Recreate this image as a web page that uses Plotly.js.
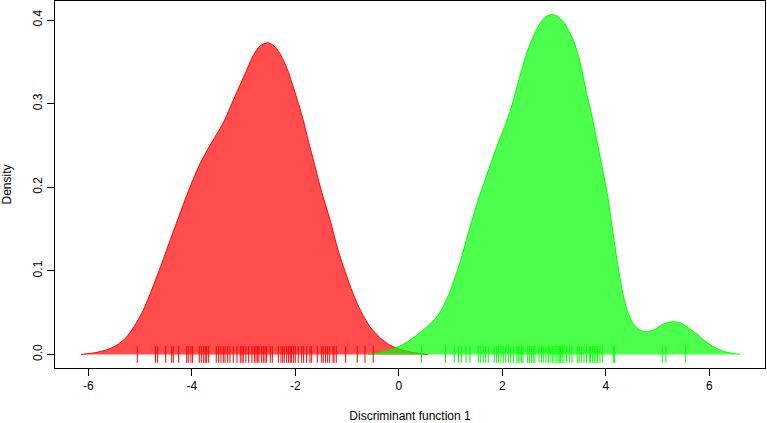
<!DOCTYPE html>
<html>
<head>
<meta charset="utf-8">
<script src="https://cdn.plot.ly/plotly-3.0.1.min.js"></script>
<style>html,body{margin:0;padding:0;background:#fff;}#plot{width:767px;height:423px;}</style>
</head>
<body>
<div id="plot"></div>
<script>
// Density curve of group 1 (red)
var redX = [-6.141,-5.870,-5.619,-5.426,-5.271,-5.117,-4.943,-4.769,-4.614,-4.421,-4.261,-4.035,-3.841,-3.648,-3.391,-3.198,-3.069,-2.939,-2.817,-2.682,-2.522,-2.412,-2.296,-2.160,-2.039,-1.948,-1.845,-1.755,-1.652,-1.503,-1.329,-1.175,-1.020,-0.866,-0.711,-0.557,-0.364,-0.170,0.023,0.216,0.410,0.564];
var redY = [0,0.002,0.006,0.012,0.020,0.033,0.052,0.078,0.103,0.136,0.163,0.200,0.228,0.250,0.277,0.304,0.322,0.340,0.357,0.369,0.3728,0.369,0.360,0.342,0.320,0.302,0.280,0.257,0.233,0.197,0.161,0.125,0.096,0.070,0.049,0.033,0.020,0.011,0.006,0.003,0.001,0];
// Density curve of group 2 (green)
var greenX = [-0.595,-0.363,-0.170,0.023,0.216,0.410,0.603,0.796,0.989,1.183,1.376,1.536,1.704,1.892,2.085,2.207,2.342,2.477,2.599,2.729,2.845,2.966,3.076,3.192,3.372,3.501,3.631,3.733,3.824,3.927,4.048,4.139,4.236,4.332,4.429,4.526,4.661,4.796,4.951,5.106,5.280,5.434,5.589,5.744,5.918,6.111,6.304,6.594];
var greenY = [0,0.002,0.005,0.010,0.017,0.026,0.036,0.050,0.075,0.110,0.152,0.185,0.215,0.248,0.279,0.302,0.333,0.361,0.380,0.396,0.404,0.4067,0.404,0.397,0.376,0.350,0.312,0.285,0.257,0.225,0.185,0.145,0.105,0.072,0.050,0.037,0.029,0.027,0.030,0.036,0.039,0.038,0.032,0.025,0.016,0.008,0.003,0];
// Rug: individual discriminant scores
var redRug = [-5.053,-4.701,-4.659,-4.504,-4.388,-4.357,-4.253,-4.099,-4.068,-4.016,-3.983,-3.855,-3.816,-3.770,-3.739,-3.712,-3.673,-3.527,-3.480,-3.436,-3.391,-3.358,-3.306,-3.262,-3.198,-3.127,-3.063,-3.030,-3.005,-2.953,-2.900,-2.837,-2.792,-2.759,-2.727,-2.701,-2.649,-2.618,-2.585,-2.553,-2.483,-2.444,-2.328,-2.276,-2.243,-2.213,-2.166,-2.128,-2.097,-2.070,-2.031,-2.000,-1.942,-1.876,-1.838,-1.780,-1.716,-1.683,-1.575,-1.490,-1.459,-1.413,-1.374,-1.335,-1.271,-1.252,-1.208,-1.026,-0.802,-0.653,-0.493];
var greenRug = [0.439,0.902,1.072,1.154,1.215,1.299,1.376,1.536,1.575,1.633,1.679,1.729,1.845,1.892,1.923,1.975,2.019,2.066,2.116,2.162,2.213,2.284,2.309,2.342,2.375,2.400,2.491,2.529,2.568,2.599,2.632,2.709,2.761,2.792,2.844,2.889,2.922,2.966,2.999,3.038,3.076,3.101,3.128,3.159,3.192,3.244,3.295,3.347,3.449,3.488,3.534,3.579,3.631,3.681,3.708,3.747,3.778,3.811,3.843,3.888,3.940,4.145,4.172,5.092,5.163,5.544];
var xTicks = [-6,-4,-2,0,2,4,6];
var xTickText = ["-6","-4","-2","0","2","4","6"];
var yTicks = [0.0,0.1,0.2,0.3,0.4];
var yTickText = ["0.0","0.1","0.2","0.3","0.4"];

var traces = [
  {x: redX, y: redY, type: 'scatter', mode: 'lines', fill: 'tozeroy', fillcolor: 'rgba(255,0,0,0.7)', line: {color: '#ff0000', width: 1, shape: 'spline', smoothing: 0.7}, hoverinfo: 'skip'},
  {x: greenX, y: greenY, type: 'scatter', mode: 'lines', fill: 'tozeroy', fillcolor: 'rgba(0,255,0,0.7)', line: {color: '#00ff00', width: 1, shape: 'spline', smoothing: 0.7}, hoverinfo: 'skip'},
  {x: redRug, y: redRug.map(function(){return 0;}), type: 'scatter', mode: 'markers', marker: {symbol: 'line-ns', size: 12, color: '#ff0000', line: {color: '#ff0000', width: 1}}, hoverinfo: 'skip'},
  {x: greenRug, y: greenRug.map(function(){return 0;}), type: 'scatter', mode: 'markers', marker: {symbol: 'line-ns', size: 12, color: '#00ff00', line: {color: '#00ff00', width: 1}}, hoverinfo: 'skip'}
];

var fontFam = 'Liberation Sans, Arial, sans-serif';
var layout = {
  width: 767, height: 423,
  margin: {l: 55, r: 2, t: 1, b: 55},
  paper_bgcolor: '#ffffff', plot_bgcolor: '#ffffff',
  showlegend: false,
  font: {family: fontFam, size: 12, color: '#000'},
  xaxis: {
    range: [-6.643, 7.077], tickvals: xTicks, ticktext: xTickText, ticks: 'outside', ticklen: 7, tickcolor: '#000', tickwidth: 1,
    showgrid: false, zeroline: false, showline: true, linecolor: '#000', linewidth: 1, mirror: true,
    tickfont: {family: fontFam, size: 12, color: '#000'},
    title: {text: 'Discriminant function 1', font: {family: fontFam, size: 12, color: '#000'}, standoff: 20}
  },
  yaxis: {
    range: [-0.01626, 0.4228], tickvals: yTicks, ticktext: yTickText, tickangle: -90, ticks: 'outside', ticklen: 7, tickcolor: '#000', tickwidth: 1,
    showgrid: false, zeroline: false, showline: true, linecolor: '#000', linewidth: 1, mirror: true,
    tickfont: {family: fontFam, size: 12, color: '#000'},
    title: {text: 'Density', font: {family: fontFam, size: 12, color: '#000'}, standoff: 18}
  }
};
Plotly.newPlot('plot', traces, layout, {displayModeBar: false, staticPlot: true});
</script>
</body>
</html>
